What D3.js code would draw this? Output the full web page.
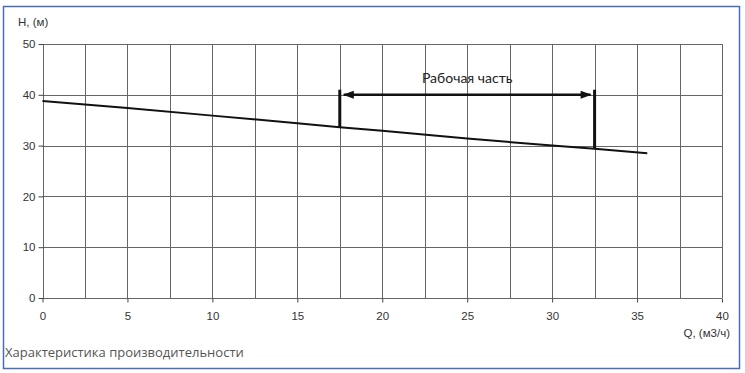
<!doctype html>
<html lang="ru">
  <head>
    <meta charset="utf-8">
    <title>Характеристика производительности</title>
    <style>
      body { margin: 0; background: #fff; }
      svg { display: block; }
      .tick text { font-family: "Liberation Sans", Arial, sans-serif; font-size: 11.5px; fill: #333; }
    </style>
  </head>
  <body>
    <div id="chart"></div>
    <script src="https://cdn.jsdelivr.net/npm/d3@7"></script>
    <script>
      // pump curve Q (m3/h) -> H (m)
      const flow = [0, 5, 10, 15, 17.5, 20, 25, 30, 32.5, 35.6]
      const head = [38.8, 37.4, 35.9, 34.4, 33.6, 32.9, 31.4, 30.0, 29.4, 28.5]
      // working range
      const workStart = 17.5
      const workEnd = 32.5
      const workLevel = 40
      const workTop = 41
      const xTicks = [0, 5, 10, 15, 20, 25, 30, 35, 40]
      const yTicks = [0, 10, 20, 30, 40, 50]
      const xGrid = d3.range(0, 40.01, 2.5)

      const width = 745, height = 373
      const svg = d3.select('#chart').append('svg')
        .attr('width', width).attr('height', height)

      // outer frame
      svg.append('rect')
        .attr('x', 3.5).attr('y', 6.5)
        .attr('width', 736).attr('height', 362)
        .attr('fill', 'none').attr('stroke', '#4a6db5').attr('stroke-width', 1.5)

      const x = d3.scaleLinear().domain([0, 40]).range([42.5, 722])
      const y = d3.scaleLinear().domain([0, 50]).range([298, 44])

      const grid = svg.append('g').attr('stroke', '#666').attr('stroke-width', 1)
      grid.selectAll('.vx').data(xGrid).enter().append('line')
        .attr('x1', d => Math.round(x(d)) + 0.5).attr('x2', d => Math.round(x(d)) + 0.5)
        .attr('y1', y(50)).attr('y2', y(0))
      grid.selectAll('.hy').data(yTicks).enter().append('line')
        .attr('x1', x(0)).attr('x2', x(40))
        .attr('y1', d => Math.round(y(d)) + 0.5).attr('y2', d => Math.round(y(d)) + 0.5)

      const xAxis = svg.append('g')
        .attr('transform', `translate(0,${Math.round(y(0)) + 0.5})`)
        .call(d3.axisBottom(x).tickValues(xTicks).tickSize(4).tickPadding(9))
      const yAxis = svg.append('g')
        .attr('transform', `translate(${Math.round(x(0)) + 0.5},0)`)
        .call(d3.axisLeft(y).tickValues(yTicks).tickSize(5).tickPadding(3))
      ;[xAxis, yAxis].forEach(a => {
        a.select('.domain').remove()
        a.selectAll('.tick line').attr('stroke', '#444')
      })

      svg.append('text')
        .attr('x', 18).attr('y', 26)
        .attr('font-family', 'Liberation Sans, Arial, sans-serif')
        .attr('font-size', 11.5).attr('fill', '#333')
        .text('H, (м)')
      svg.append('text')
        .attr('x', 730).attr('y', 337).attr('text-anchor', 'end')
        .attr('font-family', 'Liberation Sans, Arial, sans-serif')
        .attr('font-size', 11.5).attr('fill', '#333')
        .text('Q, (м3/ч)')

      const line = d3.line().x((d, i) => x(flow[i])).y(d => y(d))
      svg.append('path')
        .attr('d', line(head))
        .attr('fill', 'none').attr('stroke', '#111').attr('stroke-width', 2)

      // working range marker
      const hAt = q => head[flow.indexOf(q)]
      const mark = svg.append('g').attr('stroke', '#111').attr('stroke-width', 3)
      ;[workStart, workEnd].forEach(q => {
        mark.append('line')
          .attr('x1', x(q)).attr('x2', x(q))
          .attr('y1', y(workTop)).attr('y2', y(hAt(q)))
      })
      mark.append('line')
        .attr('x1', x(workStart) + 4).attr('x2', x(workEnd) - 4)
        .attr('y1', y(workLevel)).attr('y2', y(workLevel))
        .attr('stroke-width', 2.5)
      const head1 = (tip, dir) => {
        const yy = y(workLevel)
        svg.append('path')
          .attr('d', `M${tip},${yy} L${tip + dir * 11},${yy - 4} L${tip + dir * 11},${yy + 4} Z`)
          .attr('fill', '#111')
      }
      head1(x(workStart) + 3, 1)
      head1(x(workEnd) - 3, -1)

      svg.append('text')
        .attr('x', (x(workStart) + x(workEnd)) / 2).attr('y', 83)
        .attr('text-anchor', 'middle')
        .attr('font-family', 'Lato, "Open Sans", sans-serif')
        .attr('font-size', 14).attr('fill', '#222')
        .text('Рабочая часть')

      svg.append('text')
        .attr('x', 5).attr('y', 357)
        .attr('font-family', '"Open Sans", "Noto Sans", sans-serif')
        .attr('font-size', 13).attr('fill', '#555')
        .text('Характеристика производительности')
    </script>
  </body>
</html>
